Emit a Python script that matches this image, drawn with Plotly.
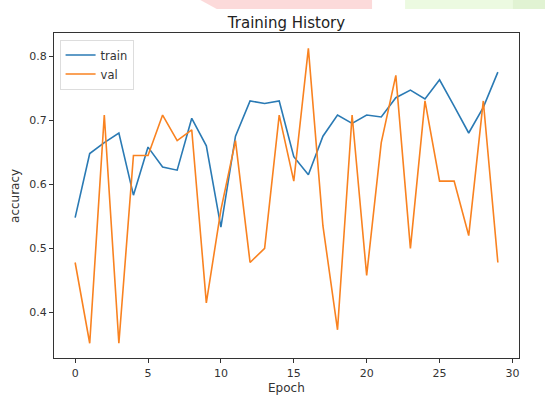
import plotly.graph_objects as go

# Per-epoch accuracy history
epochs = list(range(30))
train_acc = [0.548, 0.648, 0.665, 0.680, 0.583, 0.658, 0.627, 0.622, 0.703, 0.660,
             0.533, 0.675, 0.730, 0.726, 0.730, 0.643, 0.615, 0.675, 0.708, 0.695,
             0.708, 0.705, 0.735, 0.747, 0.733, 0.763, 0.722, 0.680, 0.720, 0.775]
val_acc = [0.478, 0.352, 0.708, 0.352, 0.645, 0.645, 0.708, 0.668, 0.685, 0.415,
           0.560, 0.668, 0.478, 0.500, 0.708, 0.605, 0.812, 0.535, 0.373, 0.708,
           0.458, 0.665, 0.770, 0.500, 0.730, 0.605, 0.605, 0.520, 0.730, 0.478]

x_ticks = [0, 5, 10, 15, 20, 25, 30]
y_ticks = [0.4, 0.5, 0.6, 0.7, 0.8]

FONT = "DejaVu Sans"
TEXT = "#333333"

fig = go.Figure()
fig.add_trace(go.Scatter(x=epochs, y=train_acc, mode="lines", name="train",
                         line=dict(color="#2a7ab4", width=1.6)))
fig.add_trace(go.Scatter(x=epochs, y=val_acc, mode="lines", name="val",
                         line=dict(color="#f98220", width=1.6)))

axis_common = dict(showline=True, linecolor="#333333", linewidth=1, mirror=True,
                   ticks="outside", ticklen=4, tickcolor="#333333", showgrid=False,
                   zeroline=False, automargin=False,
                   tickfont=dict(family=FONT, size=11, color=TEXT))

fig.update_layout(
    width=545, height=397,
    margin=dict(l=54, r=26, t=33, b=39),
    paper_bgcolor="white", plot_bgcolor="white",
    title=dict(text="Training History", x=0.5, xanchor="center", xref="paper",
               y=1, yref="paper", yanchor="bottom", pad=dict(b=5),
               font=dict(family=FONT, size=15, color="#222222")),
    xaxis=dict(range=[-1.45, 30.45], tickvals=x_ticks, ticklabelstandoff=1,
               **axis_common),
    yaxis=dict(range=[0.329, 0.836], tickvals=y_ticks, tickformat=".1f",
               **axis_common),
    legend=dict(x=0.012, y=0.98, xanchor="left", yanchor="top",
                bgcolor="rgba(255,255,255,0.85)", bordercolor="#dddddd", borderwidth=1,
                font=dict(family=FONT, size=11.5, color=TEXT), itemwidth=30,
                tracegroupgap=0),
    showlegend=True,
)

# Axis labels placed as paper annotations
fig.add_annotation(text="Epoch", xref="paper", yref="paper", x=0.5, y=-0.092,
                   xanchor="center", yanchor="middle", showarrow=False,
                   font=dict(family=FONT, size=12, color=TEXT))
fig.add_annotation(text="accuracy", xref="paper", yref="paper", x=-0.085, y=0.5,
                   xanchor="center", yanchor="middle", showarrow=False, textangle=-90,
                   font=dict(family=FONT, size=12, color=TEXT))

# Faint coloured banner shapes along the top edge of the page
fig.add_shape(type="path", xref="paper", yref="paper",
              path="M 0.314,1.102 L 0.684,1.102 L 0.684,1.074 L 0.350,1.074 Z",
              fillcolor="rgba(245,150,150,0.35)", line=dict(width=0), layer="below")
fig.add_shape(type="path", xref="paper", yref="paper",
              path="M 0.755,1.102 L 1.06,1.102 L 1.06,1.074 L 0.755,1.074 Z",
              fillcolor="rgba(200,240,170,0.35)", line=dict(width=0), layer="below")
fig.add_shape(type="path", xref="paper", yref="paper",
              path="M 0.987,1.102 L 1.06,1.102 L 1.06,1.074 L 0.987,1.074 Z",
              fillcolor="rgba(190,225,170,0.25)", line=dict(width=0), layer="below")

fig.write_html("out.html")
